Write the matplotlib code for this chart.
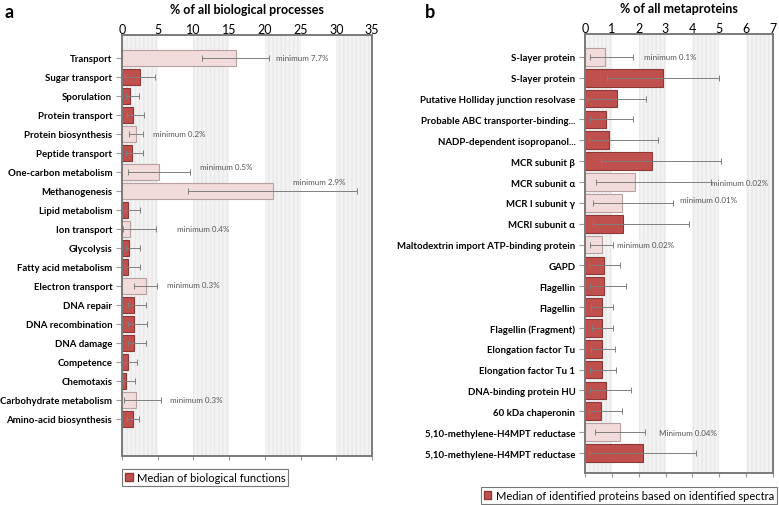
import matplotlib.pyplot as plt
from matplotlib.patches import Patch

plt.rcParams['font.family'] = ['Lato', 'DejaVu Sans']

DARK = '#c0504d'
LIGHT = '#f2dcdb'

# panel a: biological processes
proc_names = ['Transport', 'Sugar transport', 'Sporulation', 'Protein transport',
              'Protein biosynthesis', 'Peptide transport', 'One-carbon metabolism',
              'Methanogenesis', 'Lipid metabolism', 'Ion transport', 'Glycolysis',
              'Fatty acid metabolism', 'Electron transport', 'DNA repair',
              'DNA recombination', 'DNA damage', 'Competence', 'Chemotaxis',
              'Carbohydrate metabolism', 'Amino-acid biosynthesis']
proc_median = [15.9, 2.5, 1.15, 1.5, 1.95, 1.35, 5.2, 21.1, 0.85, 1.15, 1.05,
               0.8, 3.3, 1.65, 1.7, 1.65, 0.9, 0.55, 1.95, 1.5]
proc_low = [11.2, 0.4, 0.5, 0.7, 1.0, 0.6, 0.9, 9.3, 0.4, 0.1, 0.5,
            0.4, 1.7, 0.8, 0.9, 0.8, 0.4, 0.2, 0.3, 0.65]
proc_high = [20.6, 4.6, 2.4, 3.1, 2.9, 3.0, 9.5, 32.9, 2.55, 4.8, 2.55,
             2.55, 4.9, 3.3, 3.5, 3.4, 2.1, 1.8, 5.4, 2.4]
proc_light = [1, 0, 0, 0, 1, 0, 1, 1, 0, 1, 0, 0, 1, 0, 0, 0, 0, 0, 1, 0]
proc_notes = {0: ('minimum 7.7%', 21.6, 0.0), 4: ('minimum 0.2%', 4.3, 0.0),
              6: ('minimum 0.5%', 10.9, -0.3), 7: ('minimum 2.9%', 23.9, -0.5),
              9: ('minimum 0.4%', 7.7, 0.0), 12: ('minimum 0.3%', 6.3, -0.1),
              18: ('minimum 0.3%', 6.7, 0.0)}

# panel b: metaproteins
prot_names = ['S-layer protein', 'S-layer protein', 'Putative Holliday junction resolvase',
              'Probable ABC transporter-binding...', 'NADP-dependent isopropanol...',
              'MCR subunit β', 'MCR subunit α', 'MCR I subunit γ', 'MCRI subunit α',
              'Maltodextrin import ATP-binding protein', 'GAPD', 'Flagellin', 'Flagellin',
              'Flagellin (Fragment)', 'Elongation factor Tu', 'Elongation factor Tu 1',
              'DNA-binding protein HU', '60 kDa chaperonin',
              '5,10-methylene-H4MPT reductase', '5,10-methylene-H4MPT reductase']
prot_median = [0.75, 2.9, 1.19, 0.79, 0.88, 2.48, 1.86, 1.38, 1.42, 0.63, 0.72, 0.72,
               0.63, 0.65, 0.65, 0.65, 0.77, 0.6, 1.3, 2.16]
prot_low = [0.2, 0.82, 0.09, 0.2, 0.15, 0.6, 0.4, 0.3, 0.3, 0.2, 0.14, 0.2,
            0.21, 0.25, 0.23, 0.19, 0.2, 0.15, 0.36, 0.14]
prot_high = [1.8, 5.0, 2.28, 1.8, 2.7, 5.06, 4.7, 3.26, 3.86, 1.04, 1.29, 1.52,
             1.03, 1.05, 1.1, 1.14, 1.7, 1.38, 2.23, 4.15]
prot_light = [1, 0, 0, 0, 0, 0, 1, 1, 0, 1, 0, 0, 0, 0, 0, 0, 0, 0, 1, 0]
prot_notes = {0: ('minimum 0.1%', 2.2, 0.0), 6: ('minimum 0.02%', 4.7, 0.0),
              7: ('minimum 0.01%', 3.53, -0.15), 9: ('minimum 0.02%', 1.19, 0.0),
              18: ('Minimum 0.04%', 2.74, 0.0)}


def draw(ax, names, med, low, high, light, notes, xmax, step, title, legtext, ylim,
         labsize, legloc, legx):
    n = len(names)
    y = list(range(n))
    for i in range(0, xmax, 2 * step):
        ax.axvspan(i, i + step, facecolor='#f3f3f3', edgecolor='#e9e9e9',
                   hatch='||||', linewidth=0, zorder=0)
    colors = [LIGHT if l else DARK for l in light]
    edges = ['#b9a0a0' if l else '#8c3836' for l in light]
    ax.barh(y, med, height=0.85, color=colors, edgecolor=edges, linewidth=0.8, zorder=2)
    xerr = [[m - lo for m, lo in zip(med, low)], [h - m for m, h in zip(med, high)]]
    ax.errorbar(med, y, xerr=xerr, fmt='none', ecolor='#7f7f7f', elinewidth=0.7,
                capsize=2, capthick=0.7, zorder=3)
    for i, (txt, x, dy) in notes.items():
        ax.text(x, i + dy, txt, fontsize=5.8, color='#555555', va='center', zorder=4)
    ax.set_yticks(y)
    ax.set_yticklabels(names, fontsize=labsize, fontweight='bold')
    ax.set_ylim(*ylim)
    ax.set_xlim(0, xmax)
    ax.set_xticks(range(0, xmax + 1, step))
    ax.tick_params(axis='x', top=False, labeltop=True, bottom=True, labelbottom=False,
                   labelsize=9, length=3, color='#999999', pad=-3)
    ax.tick_params(axis='y', length=4, color='#999999', pad=3)
    ax.xaxis.set_label_position('top')
    ax.set_xlabel(title, fontsize=9, fontweight='bold', labelpad=7)
    for s in ax.spines.values():
        s.set_color('#7a7a7a')
        s.set_linewidth(1.4)
    leg = ax.legend(handles=[Patch(facecolor=DARK, edgecolor='#8c3836', label=legtext)],
                    loc=legloc, bbox_to_anchor=(legx, -0.032), fontsize=8,
                    fancybox=False, edgecolor='#555555', handlelength=0.7,
                    handleheight=0.7, handletextpad=0.4, borderpad=0.25,
                    borderaxespad=0)
    leg.get_frame().set_linewidth(0.8)
    return leg


fig = plt.figure(figsize=(7.79, 5.06), dpi=100)
axa = fig.add_axes([0.1566, 0.0968, 0.321, 0.832])
axb = fig.add_axes([0.751, 0.0632, 0.2413, 0.8676])

draw(axa, proc_names, proc_median, proc_low, proc_high, proc_light, proc_notes,
     35, 5, '% of all biological processes', 'Median of biological functions',
     (20.95, -1.2), 6.9, 'upper left', 0.0)
draw(axb, prot_names, prot_median, prot_low, prot_high, prot_light, prot_notes,
     7, 1, '% of all metaproteins',
     'Median of identified proteins based on identified spectra', (19.96, -1.1),
     6.9, 'upper right', 1.021)

fig.text(0.006, 0.975, 'a', fontsize=13, fontweight='bold', va='center')
fig.text(0.545, 0.975, 'b', fontsize=13, fontweight='bold', va='center')

fig.savefig('out.png', dpi=100)
